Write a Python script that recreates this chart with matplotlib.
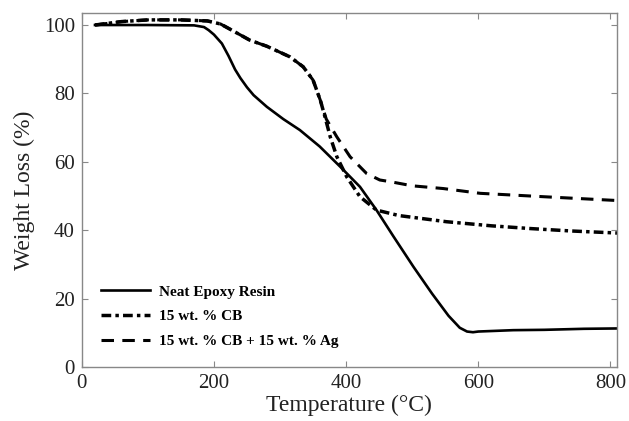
import matplotlib
matplotlib.use("Agg")
import matplotlib.pyplot as plt

# ── data (temperature in °C, weight in %) ────────────────────────────────────
t_neat = [20, 100, 170, 185, 192, 200, 212, 222, 232, 240, 250, 260, 280, 305,
          330, 360, 391, 421, 446, 472, 502, 530, 555, 572, 583, 592, 600, 653,
          700, 760, 810]
w_neat = [100, 100, 99.9, 99.4, 98.5, 97.2, 94.6, 91, 87, 84.5, 81.8, 79.5,
          76.1, 72.5, 69.3, 64.5, 58.6, 52.7, 45.9, 38.1, 29.3, 21.5, 15, 11.5,
          10.4, 10.2, 10.4, 10.8, 10.9, 11.2, 11.3]

t_cb = [20, 60, 100, 150, 190, 210, 227, 254, 280, 315, 335, 350, 361, 368,
        376, 386, 401, 421, 446, 480, 552, 620, 679, 740, 810]
w_cb = [100, 101, 101.5, 101.5, 101.2, 100.3, 98.5, 95.6, 93.8, 90.7, 87.8,
        83.9, 78, 73.2, 67.3, 61.5, 55.6, 49.8, 45.9, 44.3, 42.5, 41.3, 40.5,
        39.8, 39.2]

t_cbag = [20, 60, 100, 150, 190, 210, 227, 254, 280, 315, 335, 350, 361, 370,
          386, 406, 431, 451, 467, 500, 547, 603, 700, 810]
w_cbag = [100, 101, 101.5, 101.5, 101.2, 100.3, 98.5, 95.6, 93.8, 90.7, 87.8,
          83.9, 78, 72.5, 67.3, 61.5, 56.6, 54.7, 54.2, 53, 52.2, 50.8, 49.8,
          48.7]

labels = ["Neat Epoxy Resin", "15 wt. % CB", "15 wt. % CB + 15 wt. % Ag"]
x_ticks = [0, 200, 400, 600, 800]
y_ticks = [0, 20, 40, 60, 80, 100]

# ── estilo ───────────────────────────────────────────────────────────────────
plt.rcParams["font.family"] = ["Liberation Serif", "DejaVu Serif"]
plt.rcParams["lines.scale_dashes"] = False

fig = plt.figure(figsize=(6.29, 4.21), dpi=100)
ax = fig.add_axes([0.130, 0.128, 0.851, 0.841])

ax.plot(t_neat, w_neat, color="black", lw=1.9, ls="-", label=labels[0])
ax.plot(t_cb, w_cb, color="black", lw=2.5, dashes=(7, 3, 2.5, 3), label=labels[1])
ax.plot(t_cbag, w_cbag, color="black", lw=2.2, dashes=(9, 6), label=labels[2])

ax.set_xlim(0, 810)
ax.set_ylim(0, 103.5)
ax.set_xticks(x_ticks)
ax.set_yticks(y_ticks)
ax.tick_params(direction="in", length=4, width=0.8, colors="#888888",
               labelcolor="#222222", labelsize=15, top=True, right=True, pad=5)
for sp in ax.spines.values():
    sp.set_color("#888888")
    sp.set_linewidth(1.0)

ax.set_xlabel("Temperature (°C)", fontsize=17, color="#222222", labelpad=1)
ax.set_ylabel("Weight Loss (%)", fontsize=17, color="#222222", labelpad=6)

ax.legend(loc="lower left", bbox_to_anchor=(0.01, 0.015), frameon=False,
          prop={"weight": "bold", "size": 11}, handlelength=3.2,
          handletextpad=0.6, labelspacing=0.72)

fig.savefig("out.png", dpi=100)
